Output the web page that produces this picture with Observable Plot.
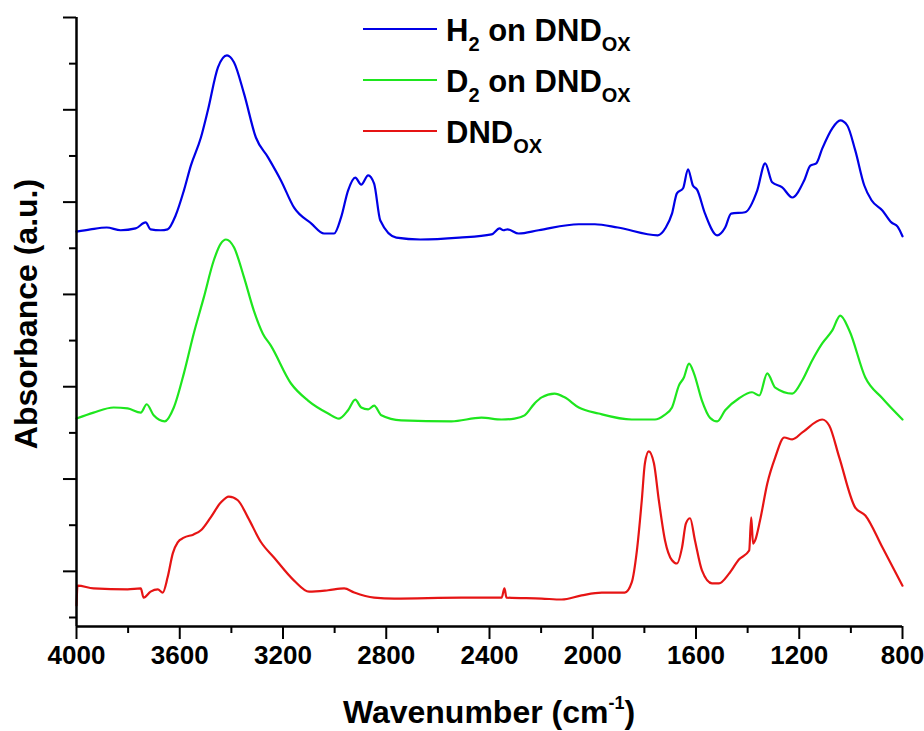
<!DOCTYPE html>
<html><head><meta charset="utf-8">
<script src="https://cdn.jsdelivr.net/npm/d3@7"></script>
<script src="https://cdn.jsdelivr.net/npm/@observablehq/plot@0.6"></script>
<style>body{margin:0;background:#fff}#chart{width:924px;height:731px}</style>
</head><body><div id="chart"></div>
<script>
// [wavenumber (cm-1), absorbance (a.u., offset)]
const h2OnDNDox = [[4000,0.836],[3946,0.841],[3883,0.845],[3829,0.839],[3771,0.843],[3732,0.856],[3713,0.841],[3674,0.839],[3647,0.841],[3616,0.871],[3584,0.925],[3557,0.979],[3518,1.040],[3491,1.099],[3452,1.192],[3417,1.218],[3390,1.203],[3351,1.135],[3305,1.040],[3258,0.997],[3208,0.947],[3157,0.888],[3091,0.854],[3041,0.832],[3002,0.832],[2975,0.867],[2948,0.925],[2920,0.953],[2897,0.938],[2870,0.958],[2847,0.940],[2823,0.860],[2761,0.823],[2668,0.819],[2517,0.823],[2392,0.830],[2361,0.843],[2346,0.839],[2330,0.841],[2287,0.832],[2210,0.839],[2054,0.852],[1992,0.852],[1903,0.845],[1748,0.828],[1717,0.845],[1693,0.875],[1674,0.919],[1650,0.930],[1631,0.971],[1612,0.936],[1596,0.927],[1565,0.875],[1518,0.828],[1487,0.845],[1464,0.875],[1410,0.878],[1363,0.925],[1332,0.984],[1305,0.943],[1266,0.932],[1227,0.910],[1181,0.947],[1157,0.979],[1134,0.984],[1111,1.016],[1072,1.060],[1041,1.077],[1014,1.066],[983,1.012],[948,0.936],[920,0.904],[878,0.882],[843,0.856],[819,0.847],[800,0.826]];
const d2OnDNDox = [[4000,0.431],[3934,0.444],[3856,0.455],[3802,0.453],[3751,0.444],[3728,0.462],[3701,0.438],[3658,0.425],[3623,0.455],[3584,0.529],[3546,0.615],[3507,0.693],[3468,0.774],[3441,0.810],[3421,0.819],[3390,0.802],[3351,0.737],[3313,0.665],[3278,0.615],[3247,0.589],[3169,0.507],[3103,0.470],[3025,0.442],[2983,0.431],[2948,0.449],[2920,0.472],[2897,0.455],[2870,0.451],[2847,0.459],[2819,0.438],[2742,0.427],[2548,0.425],[2431,0.433],[2353,0.429],[2303,0.431],[2264,0.438],[2225,0.464],[2198,0.477],[2148,0.485],[2109,0.477],[2054,0.455],[1977,0.442],[1849,0.429],[1759,0.429],[1724,0.438],[1693,0.455],[1666,0.503],[1647,0.520],[1627,0.550],[1608,0.529],[1577,0.470],[1546,0.433],[1518,0.425],[1487,0.449],[1433,0.475],[1383,0.488],[1355,0.481],[1324,0.529],[1293,0.498],[1227,0.485],[1188,0.514],[1150,0.557],[1111,0.594],[1072,0.622],[1041,0.654],[1006,0.622],[944,0.520],[878,0.475],[800,0.429]];
const dndOx = [[4000,0.026],[3996,0.069],[3934,0.063],[3802,0.061],[3751,0.063],[3740,0.043],[3713,0.056],[3685,0.061],[3666,0.054],[3647,0.087],[3627,0.139],[3608,0.163],[3584,0.173],[3546,0.180],[3518,0.189],[3480,0.217],[3441,0.249],[3410,0.262],[3375,0.254],[3336,0.217],[3285,0.163],[3235,0.130],[3157,0.080],[3099,0.056],[3025,0.059],[2963,0.063],[2924,0.054],[2847,0.043],[2769,0.041],[2509,0.043],[2353,0.043],[2342,0.063],[2334,0.043],[2198,0.041],[2120,0.039],[2043,0.048],[1965,0.054],[1876,0.054],[1849,0.076],[1829,0.145],[1810,0.254],[1798,0.334],[1783,0.360],[1763,0.334],[1744,0.254],[1720,0.167],[1693,0.124],[1674,0.117],[1654,0.152],[1639,0.204],[1623,0.215],[1604,0.167],[1577,0.102],[1538,0.074],[1511,0.074],[1472,0.095],[1433,0.126],[1394,0.145],[1386,0.217],[1379,0.160],[1371,0.167],[1352,0.210],[1324,0.290],[1293,0.347],[1258,0.390],[1227,0.386],[1188,0.401],[1111,0.429],[1084,0.416],[1045,0.347],[983,0.238],[944,0.221],[878,0.152],[800,0.069]];

const seriesNames = ["H2 on DNDox", "D2 on DNDox", "DNDox"];
const seriesColors = ["#0000e6", "#1ee61e", "#e61414"];
const seriesData = [h2OnDNDox, d2OnDNDox, dndOx];

const xTicks = [4000, 3600, 3200, 2800, 2400, 2000, 1600, 1200, 800];
const xMinorTicks = [3800, 3400, 3000, 2600, 2200, 1800, 1400, 1000];
const yMajorTicks = [0.1, 0.3, 0.5, 0.7, 0.9, 1.1, 1.3];
const yMinorTicks = [0, 0.2, 0.4, 0.6, 0.8, 1.0, 1.2];
const xDomain = [4000, 800];
const yDomain = [-0.0195, 1.3];

const font = '"Liberation Sans", Arial, sans-serif';
const rows = seriesData.flatMap((vals, i) => vals.map(([wn, a]) => ({series: seriesNames[i], wn, a})));

const svg = Plot.plot({
  width: 924, height: 731,
  marginLeft: 76, marginRight: 22, marginTop: 17, marginBottom: 105,
  style: {fontFamily: font, fontWeight: "bold", background: "white", overflow: "visible"},
  x: {domain: xDomain},
  y: {domain: yDomain},
  color: {domain: seriesNames, range: seriesColors},
  marks: [
    Plot.axisX(xTicks, {tickSize: 13, strokeWidth: 2, tickPadding: 6, fontSize: 26, fontWeight: "bold", fill: "black", label: null, tickFormat: d => String(d)}),
    Plot.axisX(xMinorTicks, {tickSize: 7, strokeWidth: 2, tickFormat: () => "", label: null}),
    Plot.axisY(yMajorTicks, {tickSize: 13, strokeWidth: 2, tickFormat: () => "", label: null}),
    Plot.axisY(yMinorTicks, {tickSize: 7, strokeWidth: 2, tickFormat: () => "", label: null}),
    Plot.line(rows, {x: "wn", y: "a", z: "series", stroke: "series", strokeWidth: 2.2, curve: "monotone-x"}),
    Plot.ruleY([yDomain[0]], {strokeWidth: 2.5, stroke: "black"}),
    Plot.ruleX([xDomain[0]], {strokeWidth: 2.5, stroke: "black"})
  ]
});
document.getElementById("chart").appendChild(svg);

const s = d3.select(svg);
// legend
const legendRows = [
  {main: "H", sub1: "2", rest: " on DND", sub2: "OX"},
  {main: "D", sub1: "2", rest: " on DND", sub2: "OX"},
  {main: "DND", sub1: null, rest: null, sub2: "OX"}
];
legendRows.forEach((r, i) => {
  const y = 29 + i * 51;
  s.append("line").attr("x1", 363).attr("x2", 437).attr("y1", y).attr("y2", y)
    .attr("stroke", seriesColors[i]).attr("stroke-width", 2);
  const t = s.append("text").attr("x", 446).attr("y", y + 12).attr("text-anchor", "start")
    .attr("font-family", font).attr("font-weight", "bold").attr("font-size", 31).attr("fill", "black");
  t.append("tspan").text(r.main);
  if (r.sub1) {
    t.append("tspan").attr("font-size", 20).attr("dy", 10).text(r.sub1);
    t.append("tspan").attr("dy", -10).text(r.rest);
  }
  t.append("tspan").attr("font-size", 20).attr("dy", 10).text(r.sub2);
});
// axis titles
const xt = s.append("text").attr("x", 489).attr("y", 723).attr("text-anchor", "middle")
  .attr("font-family", font).attr("font-weight", "bold").attr("font-size", 32).attr("fill", "black");
xt.append("tspan").text("Wavenumber (cm");
xt.append("tspan").attr("font-size", 18).attr("dy", -14).text("-1");
xt.append("tspan").attr("dy", 14).text(")");
s.append("text").attr("transform", "translate(37,314) rotate(-90)").attr("text-anchor", "middle")
  .attr("font-family", font).attr("font-weight", "bold").attr("font-size", 32).attr("fill", "black")
  .text("Absorbance (a.u.)");
</script></body></html>
